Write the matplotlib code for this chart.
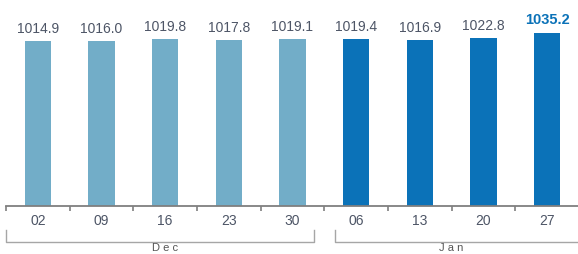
import matplotlib
matplotlib.use("Agg")
import matplotlib.pyplot as plt
from matplotlib.transforms import blended_transform_factory

categories = ["02", "09", "16", "23", "30", "06", "13", "20", "27"]
values = [1014.9, 1016.0, 1019.8, 1017.8, 1019.1, 1019.4, 1016.9, 1022.8, 1035.2]
months = ["Dec", "Jan"]
month_counts = [5, 4]

dec_color = "#72adc8"
jan_color = "#0b72b8"
text_color = "#4d5566"

plt.rcParams['font.family'] = ['Liberation Sans', 'DejaVu Sans']

fig = plt.figure(figsize=(5.78, 2.54), dpi=100)
ax = fig.add_axes([6/578, (254-206)/254, 573/578, 206/254])

colors = [dec_color]*month_counts[0] + [jan_color]*month_counts[1]
x = list(range(len(categories)))
bars = ax.bar(x, values, width=0.41, color=colors)
ax.set_xlim(-0.5, len(categories)-0.5)
ax.set_ylim(596, 1119)

for i, (xi, v) in enumerate(zip(x, values)):
    last = i == len(values)-1
    ax.annotate(f"{v:.1f}", (xi, v), xytext=(0, 3.5 if not last else 4.5), textcoords="offset points",
                ha="center", va="bottom", fontsize=10.5 if last else 10,
                fontweight="bold" if last else "normal",
                color=jan_color if last else text_color)

for s in ["top", "right", "left"]:
    ax.spines[s].set_visible(False)
ax.spines["bottom"].set_color("#7f7f7f")
ax.spines["bottom"].set_linewidth(1.3)
ax.set_yticks([])
ax.set_xticks([i - 0.5 for i in range(len(categories)+1)])
ax.set_xticklabels([])
ax.tick_params(axis="x", length=3.5, width=1.2, color="#7f7f7f")
ax.set_xticks(x, minor=True)
ax.set_xticklabels(categories, minor=True, fontsize=10, color=text_color)
ax.tick_params(axis="x", which="minor", length=0, pad=6)

tr = blended_transform_factory(ax.transData, fig.transFigure)
y_top = (254-230)/254
y_bot = (254-242)/254
y_txt = (254-248)/254
start = -0.5
gap = 0.17
for mi, (m, c) in enumerate(zip(months, month_counts)):
    end = start + c
    l = start + (gap if mi > 0 else 0)
    r = end - (gap if mi < len(months)-1 else 0)
    ax.plot([l, l, r, r], [y_top, y_bot, y_bot, y_top], transform=tr,
            color="#a6a6a6", lw=1.0, clip_on=False)
    ax.text((start+end)/2, y_txt, " ".join(m), transform=tr, ha="center",
            va="center", fontsize=8, color="#555555")
    start = end

fig.savefig("out.png", dpi=100)
